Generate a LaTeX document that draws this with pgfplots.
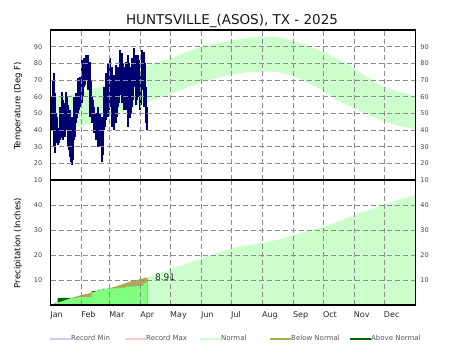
\documentclass[border=0pt]{standalone}
\usepackage{pgfplots}
\pgfplotsset{compat=1.18}
\usepackage{pgfplotstable}
\usepackage{fontspec}
\setmainfont{DejaVu Sans}

\definecolor{navyobs}{HTML}{00006E}
\definecolor{normfill}{HTML}{CCFFCC}
\definecolor{brightg}{HTML}{80FF80}
\definecolor{olivec}{HTML}{AAAA55}
\definecolor{darkg}{HTML}{006600}
\definecolor{recmin}{HTML}{CCCCFF}
\definecolor{recmax}{HTML}{FFCCCC}
\definecolor{gridc}{HTML}{8C8C8C}
\definecolor{ticktext}{HTML}{444444}
\definecolor{legtext}{HTML}{555555}

% daily observed temperatures (day index from Jan 1 = 0)
\pgfplotstableread{
d hi lo
0 58 41
1 60 40
2 70 42
3 74 30
4 62 26
5 50 33
6 48 32
7 41 31
8 40 32
9 54 34
10 50 35
11 63 36
12 58 34
13 56 37
14 52 36
15 63 40
16 60 42
17 55 30
18 50 28
19 52 24
20 45 21
21 48 19
22 40 22
23 60 34
24 55 36
25 62 44
26 58 47
27 71 50
28 66 52
29 72 54
30 70 56
31 82 56
32 79 60
33 83 66
34 80 67
35 85 70
36 84 72
37 85 64
38 80 66
39 81 48
40 70 50
41 60 44
42 58 46
43 54 38
44 50 40
45 50 34
46 48 36
47 54 30
48 50 34
49 50 30
50 46 32
51 48 21
52 44 25
53 66 40
54 60 42
55 74 46
56 70 48
57 80 48
58 76 52
59 83 54
60 78 56
61 78 42
62 70 46
63 73 40
64 66 44
65 79 44
66 72 48
67 78 54
68 74 56
69 88 61
70 84 64
71 86 56
72 80 58
73 78 52
74 74 54
75 81 52
76 76 56
77 85 42
78 80 48
79 78 47
80 72 50
81 83 54
82 78 58
83 89 66
84 84 68
85 85 55
86 80 58
87 85 60
88 82 62
89 74 52
90 70 55
91 88 64
92 84 66
93 87 54
94 80 56
95 66 44
96 54 40
}\tempdata

% normal temperature band as a closed outline: highs Jan->Dec, then lows Dec->Jan
\pgfplotstableread{
d t
0 60
15 60.5
30 62.5
45 65
60 68.5
75 72.5
90 76.5
105 80.5
120 83
135 86.5
150 90
165 92
180 93.5
195 95
210 96
225 96
240 94
255 91
270 87.5
285 83.5
300 78.5
315 72.5
330 67
345 63.5
365 60.5
365 40.5
345 43
330 46
315 50
300 54
285 58.5
270 64.5
255 69
240 73
225 75
210 75
195 74.5
180 73
165 71
150 68.5
135 65
120 61.5
105 58.5
90 55
75 51.5
60 48
45 45
30 42.5
15 40.5
0 40
}\normtemp

% normal cumulative precipitation
\pgfplotstableread{
d p
0 0
7 0.9
14 1.8
21 2.8
31 4.0
41 4.9
50 6.0
57 6.5
66 7.5
80 9.4
90 10.4
97 11.0
120 14.3
151 18.7
181 22.7
190 23.5
212 24.9
230 26.3
243 28.0
257 29.7
273 31.3
290 33.7
304 36.0
324 38.7
335 40.4
350 42.3
365 44.0
}\normprcp

% normal cumulative precipitation, Jan 1 - Apr 7
\pgfplotstableread{
d p
0 0
7 0.9
14 1.8
21 2.8
31 4.0
41 4.9
50 6.0
57 6.5
66 7.5
80 9.4
90 10.4
97 11.0
}\normprcpytd

% observed cumulative precipitation (steps)
\pgfplotstableread{
d p
0 0
2 0.3
4 0.9
7 2.9
28 3.2
41 5.6
47 6.1
52 6.45
60 6.6
68 6.9
75 7.3
85 7.6
93 8.8
96 8.91
97 8.91
}\obsprcp

% lesser of observed and normal
\pgfplotstableread{
d p
0 0
2 0
2 0.26
2.3 0.3
4 0.3
4 0.51
7 0.9
14 1.8
21 2.8
21.7 2.9
28 2.9
28 3.2
41 3.2
41 4.9
50 6.0
56.6 6.45
60 6.45
60 6.6
68 6.6
68 6.9
75 6.9
75 7.3
85 7.3
85 7.6
93 7.6
93 8.8
96 8.8
96 8.91
97 8.91
}\minprcp

\pgfplotsset{
  panel/.style={
    scale only axis, width=364.5pt,
    xmin=0, xmax=365,
    axis on top,
    clip=false,
    axis line style={black, line width=1.2pt},
    xtick={0,31,59,90,120,151,181,212,243,273,304,334},
    xmajorgrids, ymajorgrids,
    major grid style={gridc, line width=0.9pt, dash pattern=on 5pt off 3pt},
    major tick length=0pt,
    /pgf/number format/assume math mode=true,
    yticklabel style={font=\fontsize{6.5}{7}\selectfont, text=ticktext, inner sep=0pt, xshift=-8.3pt},
  },
}
\tikzset{rlab/.style={anchor=west, inner sep=0pt, font=\fontsize{6.5}{7}\selectfont, text=ticktext, xshift=5pt}}

\begin{document}
\begin{tikzpicture}[x=1pt,y=1pt]
\path[use as bounding box] (0,0) rectangle (465,345);

% ---------- temperature panel ----------
\begin{axis}[panel, at={(50.7pt,165pt)}, anchor=south west, height=150pt,
  ymin=10, ymax=100, ytick={10,20,...,90}, xticklabels={},
]
\addplot[fill=normfill, draw=none] table[x=d, y=t] {\normtemp} -- cycle;
\addplot[draw=none, mark=none,
  error bars/.cd, y dir=plus, y explicit, error mark=none,
  error bar style={draw=navyobs, line width=1.4pt}]
  table[x expr=\thisrow{d}+0.5, y=lo, y error expr=\thisrow{hi}-\thisrow{lo}] {\tempdata};
\pgfplotsinvokeforeach{10,20,30,40,50,60,70,80,90}{
  \node[rlab] at (axis cs:365,#1) {#1};
}
\end{axis}

% ---------- precipitation panel ----------
\begin{axis}[panel, at={(50.7pt,40pt)}, anchor=south west, height=125pt,
  ymin=0, ymax=50, ytick={10,20,30,40},
  xticklabels={Jan,Feb,Mar,Apr,May,Jun,Jul,Aug,Sep,Oct,Nov,Dec},
  xticklabel style={anchor=north west, inner sep=0pt, yshift=-6.3pt, xshift=-0.5pt, font=\fontsize{8}{9}\selectfont, text=black!85},
]
\addplot[fill=normfill, draw=none] table[x=d, y=p] {\normprcp} \closedcycle;
\addplot[const plot, fill=darkg, draw=none] table[x=d, y=p] {\obsprcp} \closedcycle;
\addplot[fill=olivec, draw=none] table[x=d, y=p] {\normprcpytd} \closedcycle;
\addplot[fill=brightg, draw=none] table[x=d, y=p] {\minprcp} \closedcycle;
\node[anchor=west, inner sep=0pt, font=\fontsize{9}{10}\selectfont, text=black!85] at (axis cs:104.3,11.3) {8.91};
\pgfplotsinvokeforeach{10,20,30,40}{
  \node[rlab] at (axis cs:365,#1) {#1};
}
\end{axis}

% ---------- axis titles ----------
\node[rotate=90, anchor=center, inner sep=0pt, font=\fontsize{8.5}{10}\selectfont] at (18,239) {Temperature (Deg F)};
\node[rotate=90, anchor=center, inner sep=0pt, font=\fontsize{8.5}{10}\selectfont] at (18,102) {Precipitation (Inches)};

% ---------- title ----------
\node[anchor=base, inner sep=0pt, font=\fontsize{13.5}{15}\selectfont, text=black!90] at (232,320) {HUNTSVILLE\_(ASOS), TX - 2025};

% ---------- legend ----------
\begin{scope}[every node/.style={anchor=base west, inner sep=0pt, font=\fontsize{7}{8}\selectfont, text=legtext}]
\draw[recmin, line width=2pt] (50,5.7) -- (71,5.7);
\node at (71,5) {Record Min};
\draw[recmax, line width=2pt] (125,5.7) -- (146,5.7);
\node at (146,5) {Record Max};
\draw[normfill, line width=2pt] (200,5.7) -- (221,5.7);
\node at (221,5) {Normal};
\draw[olivec, line width=2pt] (270,5.7) -- (291,5.7);
\node at (291,5) {Below Normal};
\draw[darkg, line width=2pt] (350,5.7) -- (371,5.7);
\node at (371,5) {Above Normal};
\end{scope}
\end{tikzpicture}
\end{document}
